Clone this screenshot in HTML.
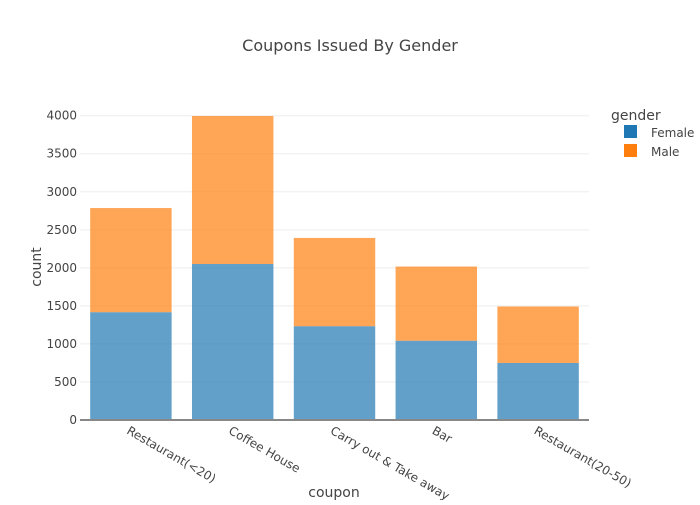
<!DOCTYPE html>
<html><head><meta charset="utf-8"><style>
body{margin:0;background:#fff;}
svg text{font-family:"DejaVu Sans","Liberation Sans",sans-serif;fill:#444;}
</style></head><body>
<svg id="chart" width="700" height="500">
<text x="350" y="51" text-anchor="middle" font-size="16">Coupons Issued By Gender</text>
<g id="grid"></g><g id="bars"></g><g id="yticks"></g><g id="xticks"></g>
<line x1="80" x2="589" y1="420" y2="420" stroke="#888" stroke-width="2"/>
<text x="334" y="497" text-anchor="middle" font-size="14">coupon</text>
<text transform="translate(41,267) rotate(-90)" text-anchor="middle" font-size="14">count</text>
<text x="611" y="120" font-size="14">gender</text>
<g><rect x="624" y="125" width="13" height="13" fill="#1f77b4"/><text x="651" y="137" font-size="12">Female</text></g>
<g><rect x="624" y="144" width="13" height="13" fill="#ff7f0e"/><text x="651" y="156" font-size="12">Male</text></g>
</svg>
<script>
const categories=["Restaurant(<20)","Coffee House","Carry out & Take away","Bar","Restaurant(20-50)"];
const female=[1417,2051,1233,1042,750];
const male=[1369,1945,1160,975,742];
const yTicks=[0,500,1000,1500,2000,2500,3000,3500,4000];
const NS="http://www.w3.org/2000/svg";
const x0=80,x1=589,yBase=420,yTop=115.7,yMax=4000;
const y=v=>yBase-(v/yMax)*(yBase-yTop);
const band=(x1-x0)/categories.length;
const xc=i=>x0+band*(i+0.5);
function mk(t,a){const e=document.createElementNS(NS,t);for(const k in a)e.setAttribute(k,a[k]);return e;}
const grid=document.getElementById('grid'),yt=document.getElementById('yticks');
yTicks.forEach(v=>{
 if(v>0){const l=mk('line',{x1:x0,x2:x1,y1:y(v),y2:y(v),stroke:'#eee','stroke-width':1});
 
 grid.appendChild(l);}
 const t=mk('text',{x:x0-3,y:y(v)+4,'text-anchor':'end','font-size':12});t.textContent=v;
 
 yt.appendChild(t);
});
const bars=document.getElementById('bars'),xt=document.getElementById('xticks');
const bw=band*0.8;
categories.forEach((c,i)=>{
 const f=mk('rect',{x:xc(i)-bw/2,y:y(female[i]),width:bw,height:yBase-y(female[i]),fill:'#1f77b4','fill-opacity':0.7});
 
 bars.appendChild(f);
 const m=mk('rect',{x:xc(i)-bw/2,y:y(female[i]+male[i]),width:bw,height:y(female[i])-y(female[i]+male[i]),fill:'#ff7f0e','fill-opacity':0.7});
 
 bars.appendChild(m);
 const t=mk('text',{transform:`translate(${xc(i)-5},${433}) rotate(30)`,'font-size':12});t.textContent=c;
 
 xt.appendChild(t);
});
</script>
</body></html>
